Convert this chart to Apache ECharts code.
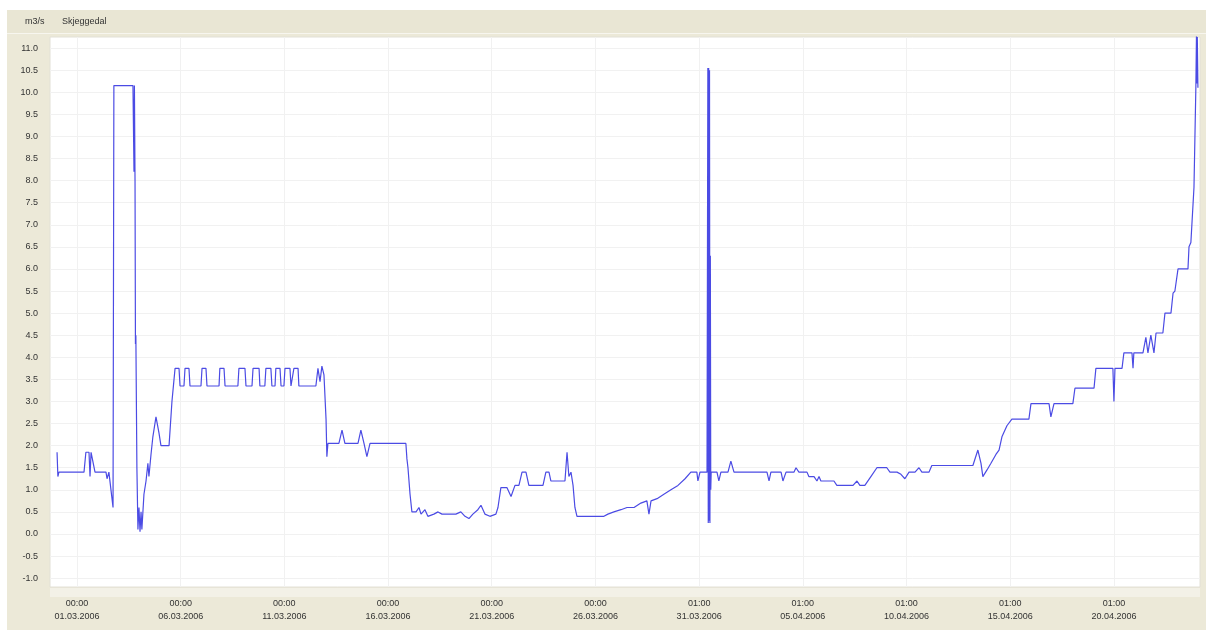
<!DOCTYPE html>
<html>
<head>
<meta charset="utf-8">
<script src="https://cdn.jsdelivr.net/npm/echarts@6/dist/echarts.min.js"></script>
<style>
html,body{margin:0;padding:0;background:#ffffff;}
#chart{width:1206px;height:630px;}
</style>
</head>
<body>
<div id="chart"></div>
<script>
// ---- labels ----
const unitLabel = 'm3/s';
const stationName = 'Skjeggedal';

// x ticks: days since 01.03.2006 00:00
const tickDays  = [0, 5, 10, 15, 20, 25, 30, 35, 40, 45, 50];
const tickTimes = ['00:00','00:00','00:00','00:00','00:00','00:00','01:00','01:00','01:00','01:00','01:00'];
const tickDates = ['01.03.2006','06.03.2006','11.03.2006','16.03.2006','21.03.2006','26.03.2006',
                   '31.03.2006','05.04.2006','10.04.2006','15.04.2006','20.04.2006'];

// y ticks
const yTicks = [-1.0,-0.5,0.0,0.5,1.0,1.5,2.0,2.5,3.0,3.5,4.0,4.5,5.0,5.5,6.0,6.5,7.0,7.5,8.0,8.5,9.0,9.5,10.0,10.5,11.0];

// ---- series: time (days since 01.03.2006) and flow (m3/s) ----
const days = [
 -0.96,-0.92,-0.87,0.34,0.43,0.58,0.63,0.68,0.77,0.87,1.40,1.45,1.54,1.64,1.74,1.78,
 2.70,2.75,2.77,2.80,2.82,2.84,2.89,2.94,2.99,3.04,3.09,3.13,3.23,3.33,3.42,3.47,3.57,3.66,3.81,3.95,4.05,4.44,4.58,4.73,
 4.92,4.97,5.16,5.21,5.40,5.45,5.98,6.03,6.22,6.27,6.85,6.89,7.09,7.14,7.76,7.81,8.10,8.15,8.44,8.49,8.78,8.82,
 9.06,9.11,9.35,9.40,9.55,9.59,9.79,9.84,9.98,10.03,10.27,10.32,10.41,10.46,10.66,10.70,11.52,11.62,11.72,11.81,11.91,
 12.01,12.05,12.10,12.63,12.78,12.92,13.55,13.69,13.84,13.98,14.13,15.86,15.91,15.96,16.06,16.15,16.35,16.49,16.59,
 16.78,16.92,17.21,17.41,17.60,18.27,18.51,18.71,18.90,19.09,19.33,19.48,19.67,19.91,20.20,20.30,20.44,20.73,20.93,
 21.12,21.31,21.46,21.65,21.79,22.47,22.61,22.76,22.85,23.53,23.63,23.72,23.82,23.92,24.01,24.11,25.41,25.60,25.89,
 26.23,26.52,26.86,27.19,27.48,27.58,27.68,27.97,28.30,28.64,28.98,29.32,29.60,29.89,29.94,30.04,30.38,30.40,30.42,
 30.44,30.46,30.48,30.50,30.52,30.54,30.56,30.58,30.86,30.95,31.05,31.39,31.53,31.68,33.27,33.37,33.46,33.95,34.04,34.19,34.57,
 34.67,34.81,35.20,35.29,35.54,35.68,35.78,35.87,36.50,36.64,37.42,37.61,37.75,37.99,38.28,38.57,39.05,39.20,39.54,
 39.73,39.92,40.12,40.41,40.60,40.74,41.08,41.22,43.20,43.44,43.59,43.68,43.88,44.07,44.31,44.46,44.60,44.84,45.08,
 45.90,46.00,46.87,46.96,47.11,48.02,48.12,49.04,49.13,49.95,50.00,50.05,50.39,50.48,50.87,50.92,50.96,51.40,51.54,
 51.64,51.78,51.93,52.03,52.36,52.46,52.75,52.85,52.94,53.09,53.57,53.62,53.71,53.86,53.95,53.98,54.00,54.02,54.05
];
const flow = [
 1.85,1.30,1.40,1.40,1.85,1.85,1.30,1.85,1.85,1.40,1.40,1.25,1.40,1.00,0.60,10.15,
 10.15,8.20,10.15,8.00,4.30,4.50,1.50,0.10,0.60,0.05,0.50,0.10,0.90,1.20,1.60,1.30,1.80,2.20,2.65,2.30,2.00,2.00,3.00,3.75,
 3.75,3.35,3.35,3.75,3.75,3.35,3.35,3.75,3.75,3.35,3.35,3.75,3.75,3.35,3.35,3.75,3.75,3.35,3.35,3.75,3.75,3.35,
 3.35,3.75,3.75,3.35,3.35,3.75,3.75,3.35,3.35,3.75,3.75,3.35,3.35,3.75,3.75,3.35,3.35,3.75,3.45,3.80,3.60,
 2.60,1.75,2.05,2.05,2.35,2.05,2.05,2.35,2.05,1.75,2.05,2.05,1.70,1.50,0.90,0.50,0.50,0.60,0.45,
 0.55,0.40,0.45,0.50,0.45,0.45,0.50,0.40,0.35,0.45,0.55,0.65,0.45,0.40,0.45,0.60,1.05,1.05,0.85,
 1.10,1.10,1.40,1.40,1.10,1.10,1.40,1.40,1.20,1.20,1.85,1.30,1.40,1.10,0.60,0.40,0.40,0.45,0.50,
 0.55,0.60,0.60,0.70,0.75,0.45,0.75,0.80,0.90,1.00,1.10,1.25,1.40,1.40,1.20,1.40,1.40,6.00,10.55,
 0.25,10.55,0.30,10.50,0.25,6.30,1.00,1.40,1.40,1.20,1.40,1.40,1.65,1.40,1.40,1.20,1.40,1.40,1.20,1.40,1.40,
 1.50,1.40,1.40,1.30,1.30,1.20,1.30,1.20,1.20,1.10,1.10,1.20,1.10,1.10,1.30,1.50,1.50,1.40,1.40,
 1.35,1.25,1.40,1.40,1.50,1.40,1.40,1.55,1.55,1.90,1.60,1.30,1.45,1.60,1.80,1.90,2.20,2.45,2.60,
 2.60,2.95,2.95,2.65,2.95,2.95,3.30,3.30,3.75,3.75,3.00,3.75,3.75,4.10,4.10,3.75,4.10,4.10,4.45,
 4.10,4.50,4.10,4.55,4.55,5.00,5.00,5.45,5.50,6.00,6.00,6.50,6.60,7.85,10.10,11.30,10.20,11.25,10.10
];

const seriesData = days.map((d, i) => [d, flow[i]]);

const labelFont = 'Liberation Sans, Arial, sans-serif';
const chart = echarts.init(document.getElementById('chart'), null, {renderer: 'canvas'});

chart.setOption({
  animation: false,
  backgroundColor: '#ffffff',
  graphic: [
    {type: 'rect', z: -10, shape: {x: 7, y: 10, width: 1199, height: 620}, style: {fill: '#ECE9D8'}},
    {type: 'rect', z: -9, shape: {x: 7, y: 10, width: 1199, height: 23}, style: {fill: '#E9E6D4'}},
    {type: 'rect', z: -9, shape: {x: 7, y: 33, width: 1199, height: 1}, style: {fill: '#F7F6EF'}},
    {type: 'rect', z: -9, shape: {x: 50, y: 588, width: 1150, height: 9}, style: {fill: '#F3F1E7'}}
  ],
  title: [
    {text: unitLabel, left: 20, top: 12, textStyle: {fontSize: 9, fontWeight: 'normal', color: '#333', fontFamily: labelFont}},
    {text: stationName, left: 57, top: 12, textStyle: {fontSize: 9, fontWeight: 'normal', color: '#333', fontFamily: labelFont}}
  ],
  grid: {
    left: 50, right: 6, top: 37, bottom: 43,
    show: true, backgroundColor: '#ffffff', borderColor: '#E2E0D6', borderWidth: 1,
    containLabel: false
  },
  xAxis: {
    type: 'value',
    min: -1.30, max: 54.15,
    axisLine: {show: false},
    axisTick: {show: false, customValues: tickDays},
    splitLine: {show: true, lineStyle: {color: '#F1F1F1', width: 1}},
    axisLabel: {
      customValues: tickDays,
      margin: 10,
      fontSize: 9, color: '#333', fontFamily: labelFont, lineHeight: 13,
      formatter: function (v) {
        const i = tickDays.indexOf(v);
        return i >= 0 ? tickTimes[i] + '\n' + tickDates[i] : '';
      }
    }
  },
  yAxis: {
    type: 'value',
    min: -1.2, max: 11.25,
    axisLine: {show: false},
    axisTick: {show: false, customValues: yTicks},
    splitLine: {show: true, lineStyle: {color: '#F1F1F1', width: 1}},
    axisLabel: {
      customValues: yTicks,
      margin: 12,
      fontSize: 9, color: '#333', fontFamily: labelFont,
      formatter: function (v) { return v.toFixed(1); }
    }
  },
  series: [{
    type: 'line',
    data: seriesData,
    symbol: 'none',
    lineStyle: {color: '#4B4BE4', width: 1.2},
    itemStyle: {color: '#4B4BE4'}
  }]
});
</script>
</body>
</html>
